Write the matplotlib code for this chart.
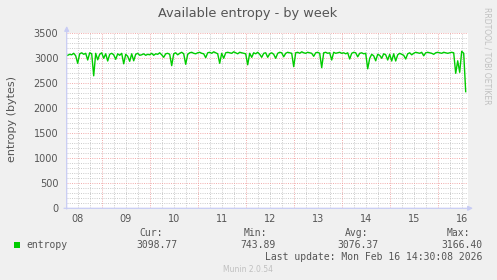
import matplotlib
matplotlib.use('Agg')
import matplotlib.pyplot as plt
import matplotlib.dates as mdates
from matplotlib.patches import Rectangle
import pandas as pd

# hourly entropy readings
entropy = [
    3060, 3080, 3070, 3100, 3050, 2900, 3090, 3110, 3080, 3100, 2966, 3110, 3090, 2650, 3100, 2970, 3080, 3110, 3000, 3090,
    2946, 3080, 3100, 3070, 2980, 3090, 3060, 3100, 2890, 3080, 3040, 2940, 3090, 2950, 3080, 3100, 3060, 3070, 3090, 3060,
    3080, 3070, 3100, 3060, 3090, 3080, 3110, 3070, 3020, 3090, 3100, 3080, 2853, 3090, 3110, 3070, 3100, 3120, 3090, 2880,
    3080, 3110, 3120, 3100, 3090, 3110, 3120, 3100, 3090, 3013, 3110, 3120, 3100, 3130, 3110, 3090, 2900, 3100, 3000, 3110,
    3120, 3110, 3100, 3130, 3110, 3090, 3120, 3110, 3100, 3090, 2870, 3100, 3020, 3110, 3090, 3120, 3080, 3020, 3100, 3110,
    3020, 3090, 3110, 3080, 3000, 3100, 3120, 3110, 3030, 3100, 3120, 3110, 3100, 2833, 3110, 3120, 3100, 3130, 3110, 3100,
    3120, 3110, 3100, 3040, 3110, 3120, 3100, 2813, 3110, 3120, 3100, 3110, 2966, 3120, 3100, 3110, 3120, 3100, 3110, 3090,
    3110, 2986, 3100, 3120, 3110, 3030, 3100, 3110, 3090, 3100, 2790, 3000, 3080, 3050, 2950, 3080, 3060, 3000, 3090, 3070,
    2966, 3080, 2946, 3090, 2946, 3070, 3100, 3080, 3060, 2986, 3090, 3110, 3070, 3100, 3120, 3110, 3100, 3120, 3050, 3110,
    3120, 3110, 3100, 3080, 3110, 3120, 3110, 3100, 3120, 3110, 3100, 3110, 3120, 3110, 2700, 2950, 2720, 3140, 3100, 2333,
]
times = pd.date_range('2026-02-08 07:00', periods=len(entropy), freq='h')

view_start = pd.Timestamp('2026-02-08 06:30')
view_end = view_start + pd.Timedelta(hours=200.8)

stat_names = ['Cur:', 'Min:', 'Avg:', 'Max:']
stat_values = ['3098.77', '743.89', '3076.37', '3166.40']
last_update = 'Last update: Mon Feb 16 14:30:08 2026'

W, H = 497, 280
BG = '#f0f0f0'
FONT = '#555555'
AXIS = '#c8ccf4'
DOT = (0, (1.2, 1.5))

def fx(px):
    return px / W

def fy(py):
    return 1 - py / H

fig = plt.figure(figsize=(W / 100, H / 100), dpi=100, facecolor=BG)
ax = fig.add_axes([fx(66.7), 1 - 208.3 / H, 401.6 / W, 175 / H])
ax.set_facecolor('white')

# grid: minor grey, major red (midnights / every 500)
ax.set_xlim(view_start, view_end)
ax.set_ylim(0, 3500)
for t in pd.date_range('2026-02-08 12:00', '2026-02-16 12:00', freq='6h'):
    if t.hour != 0:
        ax.axvline(t, color='#c4c4c4', lw=0.6, ls=DOT, zorder=0)
for v in range(100, 3501, 100):
    if v % 500:
        ax.axhline(v, color='#c4c4c4', lw=0.6, ls=DOT, zorder=0)
for t in pd.date_range('2026-02-09', '2026-02-16', freq='D'):
    ax.axvline(t, color='#f0a0a0', lw=0.6, ls=DOT, zorder=1)
for v in range(500, 3501, 500):
    ax.axhline(v, color='#f0a0a0', lw=0.6, ls=DOT, zorder=1)

ax.plot(times, entropy, color='#00cc00', lw=1.0, zorder=3)

ax.xaxis.set_major_locator(mdates.HourLocator(byhour=[12]))
ax.xaxis.set_major_formatter(mdates.DateFormatter('%d'))
ax.set_yticks(range(0, 3501, 500))
ax.tick_params(length=0, labelsize=7, colors=FONT, pad=6)
ax.tick_params(axis='x', pad=4)
for s in ax.spines.values():
    s.set_visible(False)

# axes with arrows
ax.annotate('', xy=(66.7, H - 26), xytext=(66.7, H - 209), xycoords='figure pixels',
            arrowprops=dict(arrowstyle='-|>', color=AXIS, lw=0.9, mutation_scale=7, shrinkA=0, shrinkB=0))
ax.annotate('', xy=(473, H - 208.3), xytext=(64, H - 208.3), xycoords='figure pixels',
            arrowprops=dict(arrowstyle='-|>', color=AXIS, lw=0.9, mutation_scale=7, shrinkA=0, shrinkB=0))

fig.text(fx(248), fy(13.3), 'Available entropy - by week', ha='center', va='center', fontsize=9.3, color=FONT)
fig.text(fx(11.7), fy(119.5), 'entropy (bytes)', ha='center', va='center', rotation=90, fontsize=8, color=FONT)
fig.text(fx(487.3), fy(56), 'RRDTOOL / TOBI OETIKER', ha='center', va='center', rotation=270,
         fontsize=5.5, color='#c0c0c0')

mono = 'DejaVu Sans Mono'
name_x = [163.3, 266.7, 368.3, 470]
val_x = [177.3, 275.3, 378.7, 482.7]
for nx, name, vx, val in zip(name_x, stat_names, val_x, stat_values):
    fig.text(fx(nx), fy(232.7), name, ha='right', va='center', family=mono, fontsize=7, color=FONT)
    fig.text(fx(vx), fy(244.7), val, ha='right', va='center', family=mono, fontsize=7, color=FONT)
fig.add_artist(Rectangle((fx(14), fy(247.5)), 5.5 / W, 5.5 / H, transform=fig.transFigure,
                         color='#00cc00', lw=0))
fig.text(fx(26), fy(244.7), 'entropy', ha='left', va='center', family=mono, fontsize=7, color=FONT)
fig.text(fx(482.7), fy(256.7), last_update, ha='right', va='center', family=mono, fontsize=7, color=FONT)
fig.text(fx(248.3), fy(269.3), 'Munin 2.0.54', ha='center', va='center', fontsize=5.5, color='#c0c0c0')

fig.savefig('out.png', dpi=100, facecolor=BG)
